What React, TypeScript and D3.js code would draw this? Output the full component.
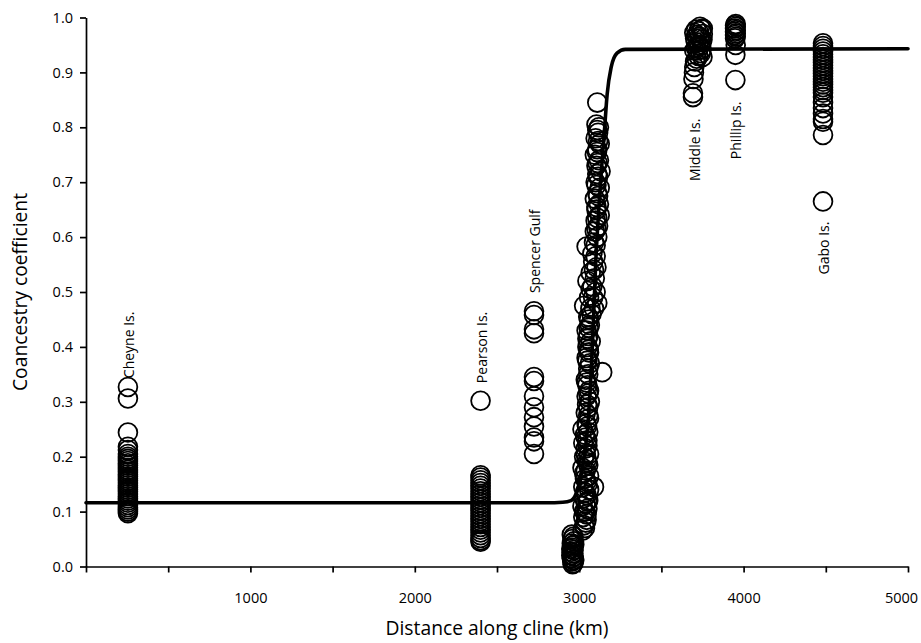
import { useEffect, useRef } from "react";
import * as d3 from "d3";

// chart size - same as the window
const WIDTH = 921;
const HEIGHT = 643;
const margin = { top: 17.5, right: 13, bottom: 76.5, left: 86 };

// --- data: [distance km, coancestry] ---
const cheyne = [
  [255, 0.327], [255, 0.306], [255, 0.244], [255, 0.218], [255, 0.212], [255, 0.205],
  [255, 0.2], [255, 0.196], [255, 0.192], [255, 0.188], [255, 0.184], [255, 0.18],
  [255, 0.176], [255, 0.172], [255, 0.168], [255, 0.164], [255, 0.16], [255, 0.156],
  [255, 0.152], [255, 0.148], [255, 0.144], [255, 0.14], [255, 0.136], [255, 0.132],
  [255, 0.128], [255, 0.124], [255, 0.12], [255, 0.116], [255, 0.112], [255, 0.108],
  [255, 0.104], [255, 0.1], [255, 0.097],
];

const pearson = [
  [2400, 0.302], [2400, 0.166], [2400, 0.162], [2400, 0.157], [2400, 0.152], [2400, 0.147],
  [2400, 0.142], [2400, 0.137], [2400, 0.132], [2400, 0.127], [2400, 0.122], [2400, 0.117],
  [2400, 0.112], [2400, 0.107], [2400, 0.102], [2400, 0.097], [2400, 0.092], [2400, 0.087],
  [2400, 0.082], [2400, 0.077], [2400, 0.072], [2400, 0.067], [2400, 0.062], [2400, 0.057],
  [2400, 0.052], [2400, 0.048], [2400, 0.045],
];

const spencer = [
  [2725, 0.465], [2725, 0.458], [2725, 0.432], [2725, 0.425], [2725, 0.345], [2725, 0.338],
  [2725, 0.31], [2725, 0.29], [2725, 0.272], [2725, 0.255], [2725, 0.235], [2725, 0.228],
  [2725, 0.205],
];

const lowCluster = [
  [2955, 0.058], [2965, 0.054], [2960, 0.05], [2968, 0.046], [2955, 0.042], [2962, 0.038],
  [2958, 0.034], [2966, 0.03], [2955, 0.027], [2962, 0.024], [2958, 0.021], [2966, 0.018],
  [2955, 0.015], [2962, 0.012], [2958, 0.009], [2965, 0.006], [2960, 0.004], [2952, 0.032],
  [2970, 0.04], [2952, 0.02], [2970, 0.012],
];

const clineColumn = [
  [3020, 0.065], [3030, 0.075], [3040, 0.08], [3025, 0.09], [3045, 0.095], [3035, 0.1],
  [3050, 0.105], [3020, 0.11], [3040, 0.115], [3055, 0.12], [3030, 0.125], [3045, 0.13],
  [3060, 0.14], [3025, 0.145], [3090, 0.145], [3050, 0.15], [3035, 0.16], [3060, 0.165],
  [3040, 0.175], [3020, 0.18], [3055, 0.185], [3045, 0.195], [3030, 0.2], [3060, 0.205],
  [3040, 0.215], [3025, 0.225], [3050, 0.23], [3035, 0.24], [3055, 0.245], [3020, 0.25],
  [3045, 0.26], [3060, 0.27], [3040, 0.28], [3055, 0.29], [3065, 0.3], [3045, 0.31],
  [3060, 0.32], [3050, 0.33], [3040, 0.34], [3140, 0.354], [3055, 0.36], [3065, 0.37],
  [3045, 0.38], [3060, 0.39], [3050, 0.4], [3070, 0.41], [3055, 0.42], [3045, 0.43],
  [3065, 0.44], [3060, 0.45], [3030, 0.475], [3075, 0.46], [3090, 0.47], [3110, 0.48],
  [3060, 0.49], [3100, 0.5], [3080, 0.51], [3050, 0.52], [3095, 0.525], [3070, 0.535],
  [3105, 0.545], [3085, 0.555], [3100, 0.565], [3045, 0.583], [3090, 0.59], [3110, 0.6],
  [3095, 0.61], [3115, 0.62], [3100, 0.63], [3125, 0.64], [3105, 0.65], [3120, 0.66],
  [3095, 0.67], [3110, 0.68], [3125, 0.69], [3100, 0.7], [3115, 0.71], [3130, 0.72],
  [3105, 0.73], [3120, 0.74], [3095, 0.75], [3110, 0.76], [3125, 0.77], [3100, 0.78],
  [3115, 0.79], [3120, 0.8], [3105, 0.805], [3110, 0.845],
  // second pass, filling between the first
  [3035, 0.07], [3045, 0.085], [3030, 0.1], [3050, 0.118], [3035, 0.135], [3045, 0.155],
  [3030, 0.17], [3050, 0.19], [3040, 0.205], [3050, 0.22], [3040, 0.235], [3048, 0.255],
  [3055, 0.275], [3048, 0.295], [3055, 0.315], [3045, 0.335], [3055, 0.35], [3050, 0.375],
  [3058, 0.395], [3050, 0.415], [3058, 0.435], [3055, 0.455], [3068, 0.47], [3085, 0.49],
  [3070, 0.505], [3090, 0.54], [3080, 0.57], [3100, 0.585], [3105, 0.615], [3110, 0.635],
  [3105, 0.655], [3115, 0.675], [3105, 0.695], [3110, 0.715], [3112, 0.735], [3108, 0.755],
  [3115, 0.775], [3110, 0.795],
];

const middle = [
  [3692, 0.855], [3692, 0.862], [3695, 0.888], [3698, 0.9], [3700, 0.91], [3705, 0.92],
  [3715, 0.925], [3725, 0.93], [3750, 0.928], [3740, 0.935], [3700, 0.94], [3710, 0.945],
  [3725, 0.95], [3745, 0.955], [3750, 0.96], [3705, 0.962], [3730, 0.965], [3752, 0.97],
  [3700, 0.972], [3725, 0.975], [3745, 0.978], [3752, 0.98], [3735, 0.983], [3715, 0.968],
  [3740, 0.962], [3710, 0.955], [3735, 0.948], [3720, 0.94], [3745, 0.942], [3712, 0.978],
];

const phillip = [
  [3950, 0.886], [3950, 0.932], [3952, 0.95], [3948, 0.962], [3952, 0.965], [3948, 0.968],
  [3952, 0.971], [3948, 0.974], [3952, 0.977], [3948, 0.98], [3952, 0.983], [3948, 0.986],
  [3952, 0.988],
];

const gabo = [
  [4483, 0.953], [4483, 0.948], [4483, 0.943], [4483, 0.938], [4483, 0.933], [4483, 0.928],
  [4483, 0.923], [4483, 0.918], [4483, 0.913], [4483, 0.908], [4483, 0.903], [4483, 0.898],
  [4483, 0.893], [4483, 0.888], [4483, 0.883], [4483, 0.878], [4483, 0.873], [4483, 0.868],
  [4483, 0.863], [4483, 0.855], [4483, 0.845], [4483, 0.835], [4483, 0.825], [4483, 0.815],
  [4483, 0.81], [4483, 0.786], [4483, 0.665],
];

// fitted cline, points
const clineFit = [
  [0, 0.116], [2800, 0.116], [2900, 0.117], [2950, 0.12], [2990, 0.14], [3020, 0.18],
  [3050, 0.25], [3080, 0.4], [3100, 0.55], [3130, 0.7], [3155, 0.8], [3170, 0.86],
  [3195, 0.91], [3230, 0.935], [3280, 0.942], [5000, 0.943],
];

// site labels: [text, distance, value where the text starts]
const siteLabels = [
  ["Cheyne Is.", 255, 0.343],
  ["Pearson Is.", 2400, 0.334],
  ["Spencer Gulf", 2725, 0.498],
  ["Middle Is.", 3700, 0.702],
  ["Phillip Is.", 3950, 0.742],
  ["Gabo Is.", 4483, 0.532],
];

const xTicks = d3.range(0, 5001, 500);
const yTicks = d3.range(0, 1.001, 0.1);

const FONT = "'Open Sans', 'Noto Sans', sans-serif";

export default function App() {
  const svgRef = useRef(null);

  useEffect(() => {
    const svg = d3.select(svgRef.current);
    svg.selectAll("*").remove();

    const x = d3.scaleLinear().domain([0, 5000]).range([margin.left, WIDTH - margin.right]);
    const y = d3.scaleLinear().domain([0, 1]).range([HEIGHT - margin.bottom, margin.top]);

    // axes
    const xAxis = d3
      .axisBottom(x)
      .tickValues(xTicks)
      .tickFormat((d) => (d % 1000 === 0 && d > 0 ? String(d) : ""))
      .tickSize(6)
      .tickSizeOuter(0)
      .tickPadding(20);

    const yAxis = d3
      .axisLeft(y)
      .tickValues(yTicks)
      .tickFormat(d3.format(".1f"))
      .tickSize(6)
      .tickSizeOuter(0)
      .tickPadding(7);

    const gx = svg
      .append("g")
      .attr("transform", `translate(0,${HEIGHT - margin.bottom})`)
      .call(xAxis);
    const gy = svg.append("g").attr("transform", `translate(${margin.left},0)`).call(yAxis);

    [gx, gy].forEach((g) => {
      g.selectAll("path, line").attr("stroke", "#000").attr("stroke-width", 1.7);
      g.selectAll("text")
        .attr("fill", "#000")
        .style("font-family", FONT)
        .style("font-size", "14.5px");
    });
    // last label sits a bit left so it stays inside the page
    gx.selectAll(".tick text").filter((d) => d === 5000).attr("dx", -7);

    // points - all groups get the same open circle
    const allPoints = [
      ...cheyne,
      ...pearson,
      ...spencer,
      ...lowCluster,
      ...clineColumn,
      ...middle,
      ...phillip,
      ...gabo,
    ];

    svg
      .append("g")
      .selectAll("circle")
      .data(allPoints)
      .join("circle")
      .attr("cx", (d) => x(d[0]))
      .attr("cy", (d) => y(d[1]))
      .attr("r", 9.4)
      .attr("fill", "none")
      .attr("stroke", "#000")
      .attr("stroke-width", 1.8);

    // fitted line
    const line = d3
      .line()
      .x((d) => x(d[0]))
      .y((d) => y(d[1]))
      .curve(d3.curveMonotoneX);

    svg
      .append("path")
      .datum(clineFit)
      .attr("d", line)
      .attr("fill", "none")
      .attr("stroke", "#000")
      .attr("stroke-width", 3.6)
      .attr("stroke-linecap", "round");

    // site labels, rotated
    svg
      .append("g")
      .selectAll("text")
      .data(siteLabels)
      .join("text")
      .attr("transform", (d) => `translate(${x(d[1]) + 6},${y(d[2])}) rotate(-90)`)
      .attr("text-anchor", "start")
      .style("font-family", FONT)
      .style("font-size", "14px")
      .text((d) => d[0]);

    // axis titles
    svg
      .append("text")
      .attr("transform", `translate(27,${(margin.top + HEIGHT - margin.bottom) / 2}) rotate(-90)`)
      .attr("text-anchor", "middle")
      .style("font-family", FONT)
      .style("font-size", "19.3px")
      .text("Coancestry coefficient");

    svg
      .append("text")
      .attr("x", (margin.left + WIDTH - margin.right) / 2)
      .attr("y", 635)
      .attr("text-anchor", "middle")
      .style("font-family", FONT)
      .style("font-size", "19.3px")
      .text("Distance along cline (km)");
  }, []);

  return (
    <div style={{ position: "fixed", left: 0, top: 0, background: "#fff" }}>
      <svg ref={svgRef} width={WIDTH} height={HEIGHT}></svg>
    </div>
  );
}
